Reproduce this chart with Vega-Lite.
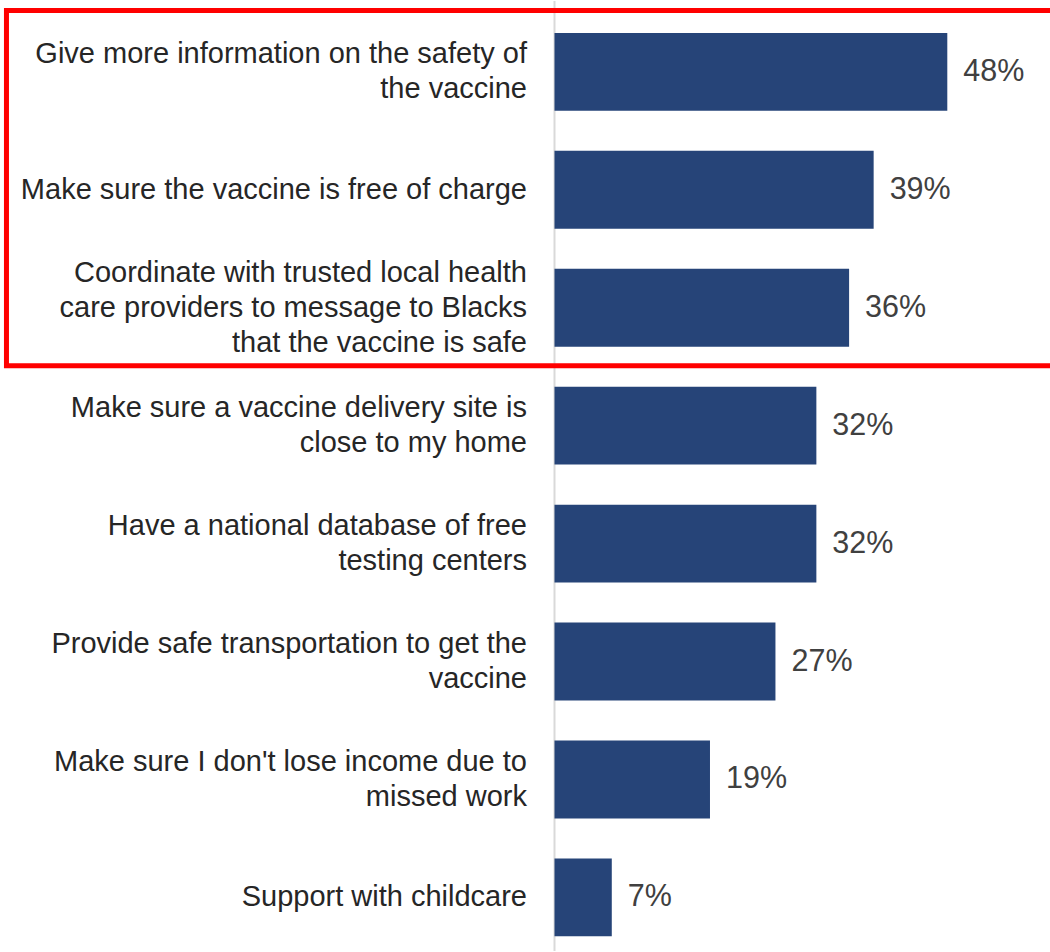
{
  "$schema": "https://vega.github.io/schema/vega-lite/v6.json",
  "width": 1050,
  "height": 952,
  "autosize": {"type": "fit", "contains": "padding"},
  "padding": 0,
  "background": "white",
  "config": {"view": {"stroke": null}},
  "data": {
    "values": [
      {"label": "Give more information on the safety of|the vaccine", "value": 0.48},
      {"label": "Make sure the vaccine is free of charge", "value": 0.39},
      {"label": "Coordinate with trusted local health|care providers to message to Blacks|that the vaccine is safe", "value": 0.36},
      {"label": "Make sure a vaccine delivery site is|close to my home", "value": 0.32},
      {"label": "Have a national database of free|testing centers", "value": 0.32},
      {"label": "Provide safe transportation to get the|vaccine", "value": 0.27},
      {"label": "Make sure I don't lose income due to|missed work", "value": 0.19},
      {"label": "Support with childcare", "value": 0.07}
    ]
  },
  "resolve": {"scale": {"x": "shared", "y": "shared"}},
  "layer": [
    {
      "data": {"values": [{}]},
      "mark": {"type": "rule", "color": "#D9D9D9", "strokeWidth": 2},
      "encoding": {
        "x": {"datum": 0, "type": "quantitative", "scale": {"domain": [-0.6776, 0.6055], "nice": false, "zero": false}, "axis": null}
      }
    },
    {
      "mark": {"type": "bar", "color": "#264478"},
      "encoding": {
        "y": {
          "field": "label", "type": "nominal", "sort": null, "axis": null,
          "scale": {
            "domain": [
              "Give more information on the safety of|the vaccine",
              "Make sure the vaccine is free of charge",
              "Coordinate with trusted local health|care providers to message to Blacks|that the vaccine is safe",
              "Make sure a vaccine delivery site is|close to my home",
              "Have a national database of free|testing centers",
              "Provide safe transportation to get the|vaccine",
              "Make sure I don't lose income due to|missed work",
              "Support with childcare"
            ],
            "paddingInner": 0.34, "paddingOuter": 0.1976, "align": 0.685
          }
        },
        "x": {"field": "value", "type": "quantitative", "scale": {"domain": [-0.6776, 0.6055], "nice": false, "zero": false}, "axis": null}
      }
    },
    {
      "mark": {"type": "text", "align": "left", "baseline": "middle", "dx": 16, "font": "Liberation Sans", "fontSize": 30.5, "color": "#404040"},
      "encoding": {
        "y": {"field": "label", "type": "nominal", "sort": null, "axis": null},
        "x": {"field": "value", "type": "quantitative", "axis": null},
        "text": {"field": "value", "type": "quantitative", "format": ".0%"}
      }
    },
    {
      "transform": [{"calculate": "length(split(datum.label, '|'))", "as": "nlines"}, {"filter": "datum.nlines == 1"}],
      "mark": {"type": "text", "align": "right", "baseline": "middle", "dx": -27.5, "dy": 0, "font": "Liberation Sans", "fontSize": 29, "lineBreak": "|", "lineHeight": 35, "color": "#262626"},
      "encoding": {
        "y": {"field": "label", "type": "nominal", "sort": null, "axis": null},
        "x": {"datum": 0, "type": "quantitative", "axis": null},
        "text": {"field": "label", "type": "nominal"}
      }
    },
    {
      "transform": [{"calculate": "length(split(datum.label, '|'))", "as": "nlines"}, {"filter": "datum.nlines == 2"}],
      "mark": {"type": "text", "align": "right", "baseline": "middle", "dx": -27.5, "dy": -17.5, "font": "Liberation Sans", "fontSize": 29, "lineBreak": "|", "lineHeight": 35, "color": "#262626"},
      "encoding": {
        "y": {"field": "label", "type": "nominal", "sort": null, "axis": null},
        "x": {"datum": 0, "type": "quantitative", "axis": null},
        "text": {"field": "label", "type": "nominal"}
      }
    },
    {
      "transform": [{"calculate": "length(split(datum.label, '|'))", "as": "nlines"}, {"filter": "datum.nlines == 3"}],
      "mark": {"type": "text", "align": "right", "baseline": "middle", "dx": -27.5, "dy": -35, "font": "Liberation Sans", "fontSize": 29, "lineBreak": "|", "lineHeight": 35, "color": "#262626"},
      "encoding": {
        "y": {"field": "label", "type": "nominal", "sort": null, "axis": null},
        "x": {"datum": 0, "type": "quantitative", "axis": null},
        "text": {"field": "label", "type": "nominal"}
      }
    },
    {
      "data": {"values": [{}]},
      "mark": {"type": "rect", "filled": false, "stroke": "#FF0000", "strokeWidth": 5, "clip": true},
      "encoding": {
        "x": {"datum": -0.6697, "type": "quantitative", "axis": null},
        "x2": {"datum": 0.7},
        "y": {"datum": "Give more information on the safety of|the vaccine", "type": "nominal", "bandPosition": -0.288, "axis": null},
        "y2": {"datum": "Coordinate with trusted local health|care providers to message to Blacks|that the vaccine is safe", "bandPosition": 1.245}
      }
    }
  ]
}
